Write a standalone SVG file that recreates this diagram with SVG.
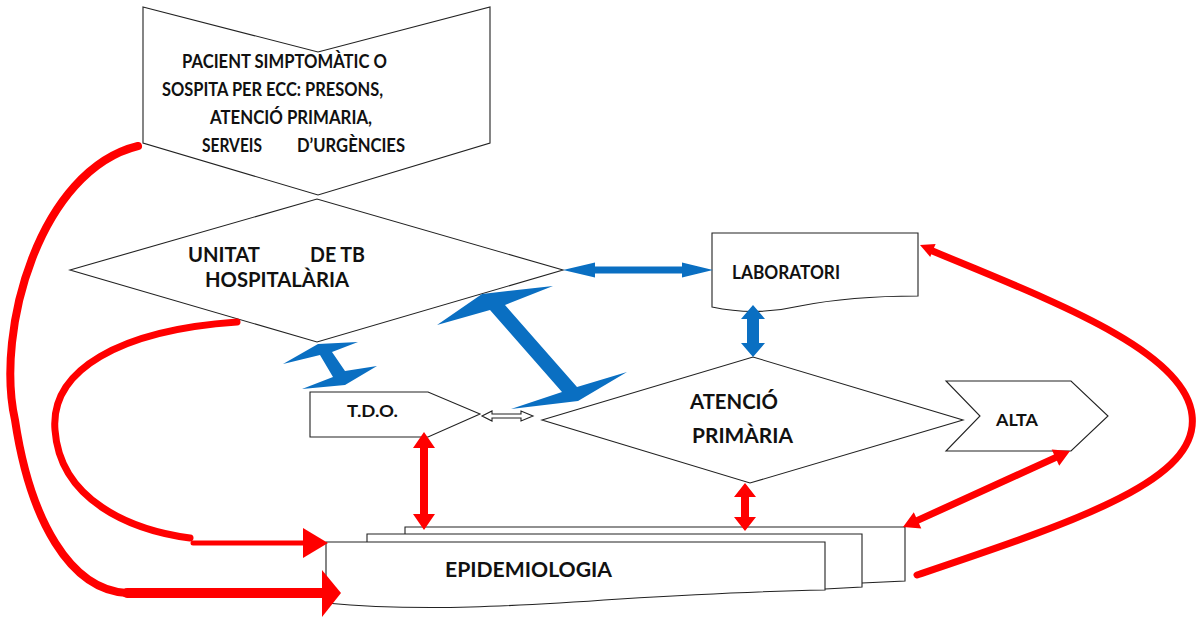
<svg xmlns="http://www.w3.org/2000/svg" width="1196" height="619" viewBox="0 0 1196 619">
  <style>
    .shape { fill: #ffffff; stroke: #222222; stroke-width: 1.1; stroke-linejoin: miter; }
    .lbl { font-family: Lato, "Liberation Sans", sans-serif; font-weight: bold; fill: #111111; }
    .red { fill: #ff0000; }
    .blue { fill: #0a6fc2; }
    .redline { fill: none; stroke: #ff0000; stroke-linecap: round; stroke-linejoin: round; }
  </style>
  <rect width="1196" height="619" fill="#ffffff"/>

  <!-- nodes -->
  <g id="pacient">
    <polygon class="shape" points="143,7 318,52 490,7 490,143 318,195 143,143"/>
    <text class="lbl" font-size="18" x="182" y="68" textLength="205" lengthAdjust="spacingAndGlyphs">PACIENT SIMPTOMÀTIC O</text>
    <text class="lbl" font-size="18" x="162" y="96" textLength="221" lengthAdjust="spacingAndGlyphs">SOSPITA PER ECC: PRESONS,</text>
    <text class="lbl" font-size="18" x="210" y="124" textLength="162" lengthAdjust="spacingAndGlyphs">ATENCIÓ PRIMARIA,</text>
    <text class="lbl" font-size="18" x="202" y="152" textLength="60" lengthAdjust="spacingAndGlyphs">SERVEIS</text>
    <text class="lbl" font-size="18" x="297" y="152" textLength="108" lengthAdjust="spacingAndGlyphs">D’URGÈNCIES</text>
  </g>

  <g id="unitat">
    <polygon class="shape" points="70,270 317,199 563,270 317,342"/>
    <text class="lbl" font-size="21" x="188" y="262" textLength="72" lengthAdjust="spacingAndGlyphs">UNITAT</text>
    <text class="lbl" font-size="21" x="310" y="262" textLength="55" lengthAdjust="spacingAndGlyphs">DE TB</text>
    <text class="lbl" font-size="21" x="205" y="287" textLength="144" lengthAdjust="spacingAndGlyphs">HOSPITALÀRIA</text>
  </g>

  <g id="laboratori">
    <path class="shape" d="M712,233 H918 V296 C880,296 840,298 800,306 C770,313 740,313 712,307 Z"/>
    <text class="lbl" font-size="18" x="732" y="279" textLength="108" lengthAdjust="spacingAndGlyphs">LABORATORI</text>
  </g>

  <g id="tdo">
    <polygon class="shape" points="310,392 428,392 480,414 428,437 310,437"/>
    <text class="lbl" font-size="17" x="347" y="417" textLength="51" lengthAdjust="spacingAndGlyphs">T.D.O.</text>
  </g>

  <g id="atencio">
    <polygon class="shape" points="542,420 753,357 963,420 750,483"/>
    <text class="lbl" font-size="20" x="690" y="409" textLength="88" lengthAdjust="spacingAndGlyphs">ATENCIÓ</text>
    <text class="lbl" font-size="20" x="692" y="443" textLength="101" lengthAdjust="spacingAndGlyphs">PRIMÀRIA</text>
  </g>

  <g id="alta">
    <polygon class="shape" points="946,381 1071,381 1108,416 1071,451 946,451 980,416"/>
    <text class="lbl" font-size="17" x="996" y="426" textLength="42" lengthAdjust="spacingAndGlyphs">ALTA</text>
  </g>

  <g id="epidemiologia">
    <polygon class="shape" points="405,527 905,527 905,581 862,583 405,583"/>
    <polygon class="shape" points="367,534 862,534 862,587 825,589 367,589"/>
    <path class="shape" d="M326,542 H825 V590 C770,591 700,594 620,599 C520,606 420,612 326,603 Z"/>
    <text class="lbl" font-size="20" x="445" y="577" textLength="167" lengthAdjust="spacingAndGlyphs">EPIDEMIOLOGIA</text>
  </g>

  <!-- connectors -->
  <g id="connectors">
    <!-- blue links -->
    <polygon class="blue" points="563,270 595,262.5 595,266.5 682,266.5 682,262.5 713,270 682,277.5 682,273.5 595,273.5 595,277.5"/>
    <polygon class="blue" points="753,305 765,319 759,319 759,343 765,343 753,357 741,343 747,343 747,319 741,319"/>
    <polygon class="blue" points="283,364 318,344 358,342 332,352 345,371 377,366 345,385 302,389 333,377 320,355"/>
    <polygon class="blue" points="437,325 482,294 553,286 505,305 577,387 627,372 578,401 511,409 562,392 490,310"/>

    <!-- small outlined link T.D.O. / Atenció -->
    <polygon class="shape" points="482,416 492,411 492,414 521,414 521,411 533,416 521,421 521,418 492,418 492,421"/>

    <!-- red two-way links -->
    <polygon class="red" points="424,432 435,448 428,448 428,514 435,514 424,530 413,514 420,514 420,448 413,448"/>
    <polygon class="red" points="745,483 756,497 749,497 749,517 756,517 745,531 734,517 741,517 741,497 734,497"/>
    <polygon class="red" points="1070,451 1059.2,465.8 1056.9,460.8 919,523.6 921.3,528.6 903,527 913.8,512.2 916.1,517.2 1054,454.4 1051.7,449.4"/>

    <!-- red return paths, left side -->
    <path class="redline" stroke-width="8" d="M138,146 C40,170 -5,330 15,420 C30,520 70,590 127,593"/>
    <path class="redline" stroke-width="10" stroke-linecap="butt" d="M127,593 H323"/>
    <polygon class="red" points="322,570 341,593 322,617"/>

    <path class="redline" stroke-width="7" d="M237,322 C120,330 50,370 55,430 C60,500 130,530 190,538"/>
    <path class="redline" stroke-width="5" stroke-linecap="butt" d="M193,543 H305"/>
    <polygon class="red" points="303,528 328,543 303,558"/>

    <!-- red return path, right side -->
    <path class="redline" stroke-width="7" d="M917,575 C1080,520 1200,480 1192,415 C1185,350 1050,300 930,250"/>
    <polygon class="red" points="920,245 935.6,244 930.2,256.9"/>
  </g>
</svg>
